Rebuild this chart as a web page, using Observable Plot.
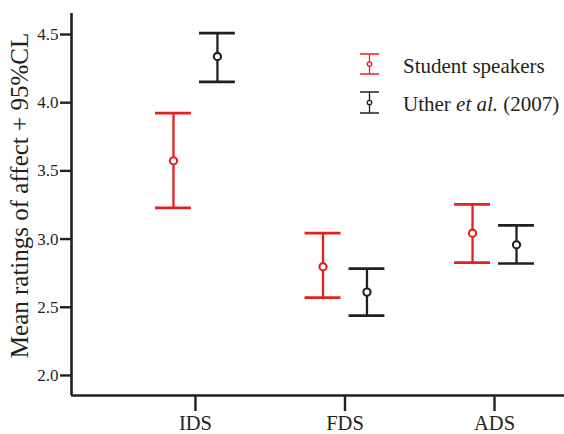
<!DOCTYPE html>
<html>
<head>
<meta charset="utf-8">
<script src="https://cdn.jsdelivr.net/npm/d3@7"></script>
<script src="https://cdn.jsdelivr.net/npm/@observablehq/plot@0.6"></script>
<style>
  html, body { margin: 0; padding: 0; background: #fff; }
  #wrap { position: relative; width: 564px; height: 434px; }
  #wrap svg text { font-family: "Liberation Serif", "Times New Roman", serif; }
  #legend { position: absolute; left: 0; top: 0; pointer-events: none; }
</style>
</head>
<body>
<div id="wrap"></div>
<script>
// ---- data ----
const categories = ["IDS", "FDS", "ADS"];
const seriesNames = ["Student speakers", "Uther et al. (2007)"];
const seriesColors = ["#e3201f", "#231f20"];
const studentMean = [3.574, 2.797, 3.043];
const studentLow  = [3.229, 2.570, 2.828];
const studentHigh = [3.923, 3.043, 3.254];
const utherMean = [4.339, 2.611, 2.958];
const utherLow  = [4.153, 2.438, 2.821];
const utherHigh = [4.510, 2.784, 3.100];
const yTicks = [2.0, 2.5, 3.0, 3.5, 4.0, 4.5];
const yLabel = "Mean ratings of affect + 95%CL";

// ---- layout ----
const xDomain = [-0.829, 2.468];
const yDomain = [1.853, 4.654];
const offset = 0.147;   // series offset within category (x units)
const capHalf = 0.12;   // half cap width (x units)
const ink = "#231f20";
const font = "Liberation Serif, Times New Roman, serif";

const rows = [];
categories.forEach((c, i) => {
  rows.push({cat: c, i, s: 0, series: seriesNames[0], mean: studentMean[i], lo: studentLow[i], hi: studentHigh[i]});
  rows.push({cat: c, i, s: 1, series: seriesNames[1], mean: utherMean[i], lo: utherLow[i], hi: utherHigh[i]});
});
const xpos = d => d.i + (d.s === 0 ? -offset : offset);

const chart = Plot.plot({
  width: 564,
  height: 434,
  marginLeft: 71,
  marginRight: 0,
  marginTop: 13,
  marginBottom: 39,
  style: {fontFamily: font, background: "#fff", overflow: "visible"},
  x: {domain: xDomain},
  y: {domain: yDomain},
  color: {domain: seriesNames, range: seriesColors},
  marks: [
    Plot.axisY({ticks: yTicks, tickFormat: d3.format(".1f"), tickSize: 11, tickPadding: 2,
      fontSize: 17, stroke: ink, fill: ink, strokeWidth: 2.4, label: null, fontFamily: font}),
    Plot.axisX({ticks: [0, 1, 2], tickFormat: i => categories[i], tickSize: 16, tickPadding: 4,
      fontSize: 20.5, stroke: ink, fill: ink, strokeWidth: 2.4, label: null, fontFamily: font}),
    Plot.ruleX([xDomain[0]], {stroke: ink, strokeWidth: 2.6}),
    Plot.ruleY([yDomain[0]], {stroke: ink, strokeWidth: 2.6}),
    Plot.text([yLabel], {frameAnchor: "left", textAnchor: "middle", rotate: -90, dx: -52, dy: -9,
      fontSize: 25, fill: ink, fontFamily: font}),
    Plot.ruleX(rows, {x: xpos, y1: "lo", y2: "hi", stroke: "series", strokeWidth: 2.3}),
    Plot.ruleY(rows, {y: "hi", x1: d => xpos(d) - capHalf, x2: d => xpos(d) + capHalf, stroke: "series", strokeWidth: 2.7}),
    Plot.ruleY(rows, {y: "lo", x1: d => xpos(d) - capHalf, x2: d => xpos(d) + capHalf, stroke: "series", strokeWidth: 2.7}),
    Plot.dot(rows, {x: xpos, y: "mean", r: 3.6, stroke: "series", fill: "white", strokeWidth: 2.1})
  ]
});
document.getElementById("wrap").appendChild(chart);

// ---- legend (overlay) ----
const leg = d3.select("#wrap").append("svg")
  .attr("id", "legend").attr("width", 564).attr("height", 434);
const entries = [
  {top: 54, bottom: 74, baseline: 73},
  {top: 92, bottom: 113, baseline: 111}
];
seriesNames.forEach((name, k) => {
  const e = entries[k], col = seriesColors[k];
  const g = leg.append("g");
  const cx = 369.5, mid = (e.top + e.bottom) / 2;
  g.append("line").attr("x1", cx).attr("x2", cx).attr("y1", e.top).attr("y2", e.bottom)
    .attr("stroke", col).attr("stroke-width", 1.3);
  g.append("line").attr("x1", cx - 9.5).attr("x2", cx + 9.5).attr("y1", e.top).attr("y2", e.top)
    .attr("stroke", col).attr("stroke-width", 1.5);
  g.append("line").attr("x1", cx - 9.5).attr("x2", cx + 9.5).attr("y1", e.bottom).attr("y2", e.bottom)
    .attr("stroke", col).attr("stroke-width", 1.5);
  g.append("circle").attr("cx", cx).attr("cy", mid).attr("r", 2.2)
    .attr("fill", "white").attr("stroke", col).attr("stroke-width", 1.3);
  const t = g.append("text").attr("x", 403).attr("y", e.baseline)
    .attr("font-family", font).attr("font-size", 21).attr("fill", ink);
  const parts = name.split(/(et al\.)/);
  parts.forEach(p => {
    if (!p) return;
    const ts = t.append("tspan").text(p);
    if (p === "et al.") ts.attr("font-style", "italic");
  });
});
</script>
</body>
</html>
